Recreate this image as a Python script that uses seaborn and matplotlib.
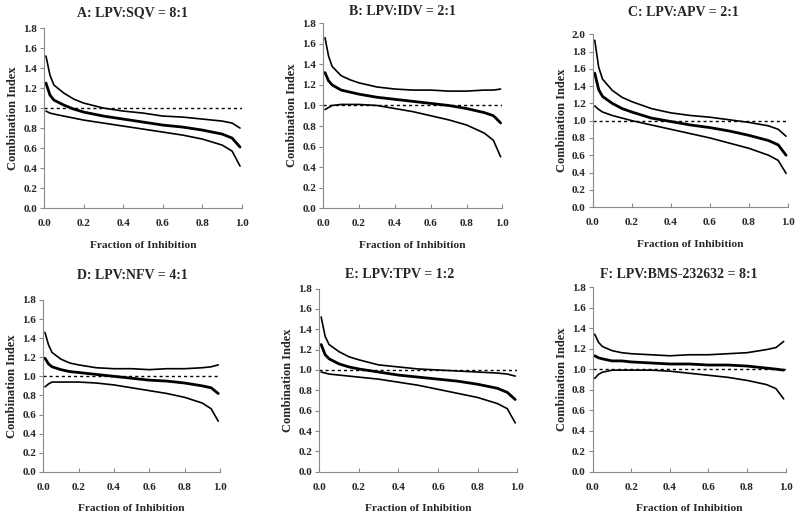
import numpy as np
import pandas as pd
import matplotlib
matplotlib.use("Agg")
import matplotlib.pyplot as plt
import seaborn as sns

# fraction affected (x) shared by all panels
fa = [0.01, 0.03, 0.05, 0.1, 0.15, 0.2, 0.3, 0.4, 0.5, 0.6, 0.7, 0.8, 0.9, 0.95, 0.99]

titles = ["A: LPV:SQV = 8:1", "B: LPV:IDV = 2:1", "C: LPV:APV = 2:1",
          "D: LPV:NFV = 4:1", "E: LPV:TPV = 1:2", "F: LPV:BMS-232632 = 8:1"]

# upper bound, combination index, lower bound for each panel
a_upper = [1.52, 1.33, 1.23, 1.15, 1.09, 1.05, 1.00, 0.97, 0.95, 0.92, 0.91, 0.89, 0.87, 0.85, 0.80]
a_ci = [1.25, 1.13, 1.08, 1.03, 0.99, 0.96, 0.92, 0.89, 0.86, 0.83, 0.81, 0.78, 0.74, 0.70, 0.61]
a_lower = [0.97, 0.95, 0.94, 0.92, 0.90, 0.88, 0.85, 0.82, 0.79, 0.76, 0.73, 0.69, 0.63, 0.57, 0.42]

b_upper = [1.66, 1.48, 1.38, 1.29, 1.25, 1.22, 1.18, 1.16, 1.15, 1.15, 1.14, 1.14, 1.15, 1.15, 1.16]
b_ci = [1.32, 1.24, 1.20, 1.15, 1.13, 1.11, 1.08, 1.06, 1.04, 1.02, 1.00, 0.97, 0.93, 0.90, 0.83]
b_lower = [0.96, 0.98, 1.00, 1.01, 1.01, 1.01, 1.00, 0.97, 0.94, 0.90, 0.86, 0.81, 0.73, 0.66, 0.50]

c_upper = [1.93, 1.62, 1.48, 1.35, 1.27, 1.22, 1.14, 1.09, 1.06, 1.04, 1.01, 0.98, 0.94, 0.90, 0.82]
c_ci = [1.55, 1.36, 1.28, 1.20, 1.14, 1.10, 1.03, 0.99, 0.95, 0.92, 0.88, 0.83, 0.77, 0.72, 0.60]
c_lower = [1.17, 1.13, 1.10, 1.06, 1.03, 1.00, 0.95, 0.90, 0.85, 0.80, 0.74, 0.68, 0.60, 0.54, 0.39]

d_upper = [1.46, 1.33, 1.25, 1.18, 1.14, 1.12, 1.09, 1.08, 1.08, 1.07, 1.08, 1.08, 1.09, 1.10, 1.12]
d_ci = [1.19, 1.13, 1.10, 1.07, 1.05, 1.04, 1.02, 1.00, 0.98, 0.96, 0.95, 0.93, 0.90, 0.88, 0.82]
d_lower = [0.89, 0.92, 0.94, 0.94, 0.94, 0.94, 0.93, 0.91, 0.88, 0.85, 0.82, 0.78, 0.72, 0.66, 0.53]

e_upper = [1.52, 1.33, 1.25, 1.18, 1.13, 1.10, 1.05, 1.03, 1.01, 1.00, 0.99, 0.98, 0.97, 0.96, 0.94]
e_ci = [1.25, 1.15, 1.11, 1.06, 1.03, 1.01, 0.98, 0.95, 0.93, 0.91, 0.89, 0.86, 0.82, 0.78, 0.71]
e_lower = [0.98, 0.97, 0.96, 0.95, 0.94, 0.93, 0.91, 0.88, 0.85, 0.81, 0.77, 0.73, 0.67, 0.62, 0.48]

f_upper = [1.34, 1.26, 1.22, 1.18, 1.16, 1.15, 1.14, 1.13, 1.14, 1.14, 1.15, 1.16, 1.19, 1.21, 1.27]
f_ci = [1.13, 1.11, 1.10, 1.08, 1.08, 1.07, 1.06, 1.05, 1.05, 1.04, 1.04, 1.03, 1.01, 1.00, 0.99]
f_lower = [0.91, 0.95, 0.97, 0.99, 0.99, 0.99, 0.99, 0.98, 0.96, 0.94, 0.92, 0.89, 0.85, 0.81, 0.71]

panels = [(a_upper, a_ci, a_lower), (b_upper, b_ci, b_lower), (c_upper, c_ci, c_lower),
          (d_upper, d_ci, d_lower), (e_upper, e_ci, e_lower), (f_upper, f_ci, f_lower)]
y_max = [1.8, 1.8, 2.0, 1.8, 1.8, 1.8]

# axes rectangles in figure fraction (left, bottom, width, height)
rects = [
    (0.055, 0.599, 0.2475, 0.347),
    (0.404, 0.599, 0.224, 0.356),
    (0.741, 0.601, 0.244, 0.333),
    (0.054, 0.091, 0.221, 0.331),
    (0.399, 0.091, 0.2475, 0.353),
    (0.741, 0.091, 0.241, 0.356),
]
# title centres in figure fraction
title_pos = [(0.165, 0.975), (0.503, 0.977), (0.854, 0.975),
             (0.165, 0.470), (0.500, 0.472), (0.848, 0.472)]

sns.set_style("ticks")
plt.rcParams['font.family'] = ['Liberation Serif', 'DejaVu Serif']
plt.rcParams['font.weight'] = 'bold'

fig = plt.figure(figsize=(8, 5.19), dpi=100)
axis_grey = '#8a8a8a'

for title, (upper, ci, lower), ymax, rect, tpos in zip(titles, panels, y_max, rects, title_pos):
    ax = fig.add_axes(rect)
    df = pd.DataFrame({'fa': fa, 'upper': upper, 'ci': ci, 'lower': lower})
    ax.axhline(1.0, color='black', lw=1.0, ls=(0, (2.2, 2.2)), zorder=1)
    sns.lineplot(data=df, x='fa', y='upper', ax=ax, color='black', lw=1.2)
    sns.lineplot(data=df, x='fa', y='ci', ax=ax, color='black', lw=2.0)
    sns.lineplot(data=df, x='fa', y='lower', ax=ax, color='black', lw=1.2)

    ax.set_xlim(0, 1.0)
    ax.set_ylim(0, ymax)
    ax.set_xticks(np.arange(0, 1.01, 0.2))
    ax.set_yticks(np.arange(0, ymax + 0.01, 0.2))
    ax.xaxis.set_major_formatter(matplotlib.ticker.FormatStrFormatter('%.1f'))
    ax.yaxis.set_major_formatter(matplotlib.ticker.FormatStrFormatter('%.1f'))
    ax.tick_params(axis='y', labelsize=8, length=3, width=0.8, pad=2, color=axis_grey)
    ax.tick_params(axis='x', labelsize=8, length=3, width=0.8, pad=8, color=axis_grey,
                   direction='in')
    for lbl in ax.get_xticklabels() + ax.get_yticklabels():
        lbl.set_fontweight('bold')
    for side in ['left', 'bottom']:
        ax.spines[side].set_color(axis_grey)
        ax.spines[side].set_linewidth(0.8)
    sns.despine(ax=ax)

    ax.set_xlabel('Fraction of Inhibition', fontsize=8.2, fontweight='bold', labelpad=9)
    ax.set_ylabel('Combination Index', fontsize=9, fontweight='bold', labelpad=3)
    fig.text(tpos[0], tpos[1], title, fontsize=10, fontweight='bold',
             ha='center', va='center')

fig.savefig('out.png', dpi=100)
